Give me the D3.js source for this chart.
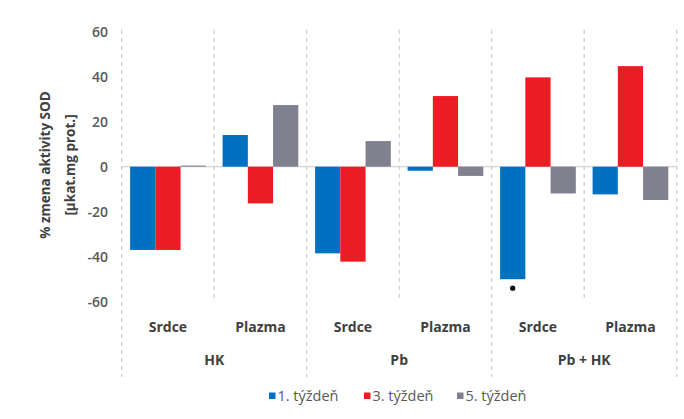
<!DOCTYPE html>
<html>
<head>
<meta charset="utf-8">
<script src="https://cdn.jsdelivr.net/npm/d3@7/dist/d3.min.js"></script>
<style>
  html, body { margin: 0; padding: 0; background: #ffffff; }
  svg { display: block; font-family: "Open Sans", "Noto Sans", sans-serif; }
</style>
</head>
<body>
<svg id="chart" width="684" height="419"></svg>
<script>
// Groups (outer level) and tissues (inner level) of the category axis
const groups = ["HK", "Pb", "Pb + HK"];
const tissues = ["Srdce", "Plazma"];
const categories = ["HK|Srdce", "HK|Plazma", "Pb|Srdce", "Pb|Plazma", "Pb + HK|Srdce", "Pb + HK|Plazma"];

// % change of SOD activity per week
const series = ["1. týždeň", "3. týždeň", "5. týždeň"];
const week1 = [-37.0, 14.1, -38.5, -1.8, -50.0, -12.3];
const week3 = [-37.0, -16.3, -42.2, 31.4, 39.7, 44.7];
const week5 = [0.5, 27.4, 11.4, -4.1, -11.9, -14.8];
const yTicks = [60, 40, 20, 0, -20, -40, -60];
// significance marks: [category index, series index]
const marks = [[4, 0]];

const colors = ["#0070c0", "#ec1c24", "#80808f"];
const values = [week1, week3, week5];

const svg = d3.select("#chart");
const plotLeft = 121.7, plotRight = 676.7, plotTop = 31.7, plotBottom = 301.7;

const x = d3.scaleBand().domain(categories).range([plotLeft, plotRight]).paddingInner(0).paddingOuter(0);
const xs = d3.scaleBand().domain(series).range([0, x.bandwidth()]).paddingInner(0).paddingOuter(0.333);
const y = d3.scaleLinear().domain([-60, 60]).range([plotBottom, plotTop]);

// vertical dashed separators
const grid = svg.append("g");
categories.forEach((c, i) => {
  const xx = x(c);
  const outer = i % 2 === 0;
  grid.append("line")
    .attr("x1", xx).attr("x2", xx)
    .attr("y1", plotTop - 2).attr("y2", outer ? 377 : 298)
    .attr("stroke", "#c9c9c9").attr("stroke-width", 1.2)
    .attr("stroke-dasharray", "4,4");
});
grid.append("line")
  .attr("x1", plotRight).attr("x2", plotRight)
  .attr("y1", plotTop - 2).attr("y2", 377)
  .attr("stroke", "#c9c9c9").attr("stroke-width", 1.2)
  .attr("stroke-dasharray", "4,4");

// zero line
svg.append("line")
  .attr("x1", plotLeft).attr("x2", plotRight)
  .attr("y1", y(0)).attr("y2", y(0))
  .attr("stroke", "#d4d4d4").attr("stroke-width", 1.2);

// bars
series.forEach((s, si) => {
  svg.append("g").selectAll("rect")
    .data(values[si])
    .join("rect")
    .attr("x", (d, i) => x(categories[i]) + xs(s))
    .attr("width", xs.bandwidth())
    .attr("y", d => Math.min(y(d), y(0)))
    .attr("height", d => Math.abs(y(d) - y(0)))
    .attr("fill", colors[si]);
});

// significance dots
marks.forEach(([ci, si]) => {
  const v = values[si][ci];
  svg.append("circle")
    .attr("cx", x(categories[ci]) + xs(series[si]) + xs.bandwidth() / 2)
    .attr("cy", y(v) + 9)
    .attr("r", 2.6)
    .attr("fill", "#111");
});

// y axis labels (plain hyphen for negatives)
const yAxis = d3.axisLeft(y).tickValues(yTicks).tickSize(0).tickPadding(0).tickFormat(d => String(d));
const ya = svg.append("g").attr("transform", "translate(108,0)").call(yAxis);
ya.select(".domain").remove();
ya.selectAll("text")
  .attr("font-size", 14).attr("font-weight", 600).attr("fill", "#595959")
  .attr("font-family", "'Open Sans', sans-serif");

// y axis title
const yt = svg.append("text")
  .attr("transform", "translate(0,165) rotate(-90)")
  .attr("text-anchor", "middle")
  .attr("font-size", 13.5).attr("font-weight", 700).attr("fill", "#404040");
yt.append("tspan").attr("x", 0).attr("y", 50).text("% zmena aktivity SOD");
yt.append("tspan").attr("x", 0).attr("y", 75).text("[µkat.mg prot.]");

// inner category labels
svg.append("g").selectAll("text")
  .data(categories)
  .join("text")
  .attr("x", d => x(d) + x.bandwidth() / 2)
  .attr("y", 331.5)
  .attr("text-anchor", "middle")
  .attr("font-size", 14).attr("font-weight", 700).attr("fill", "#404040")
  .text(d => d.split("|")[1]);

// outer group labels
svg.append("g").selectAll("text")
  .data(groups)
  .join("text")
  .attr("x", g => x(g + "|" + tissues[0]) + x.bandwidth())
  .attr("y", 365)
  .attr("text-anchor", "middle")
  .attr("font-size", 14).attr("font-weight", 700).attr("fill", "#404040")
  .text(g => g);

// legend
const legendX = [269, 364, 457];
const lg = svg.append("g");
series.forEach((s, i) => {
  lg.append("rect")
    .attr("x", legendX[i]).attr("y", 392.5)
    .attr("width", 6.5).attr("height", 6.5)
    .attr("fill", colors[i]);
  lg.append("text")
    .attr("x", legendX[i] + 8.5).attr("y", 400.5)
    .attr("font-size", 14.5).attr("fill", "#595959")
    .text(s);
});
</script>
</body>
</html>
